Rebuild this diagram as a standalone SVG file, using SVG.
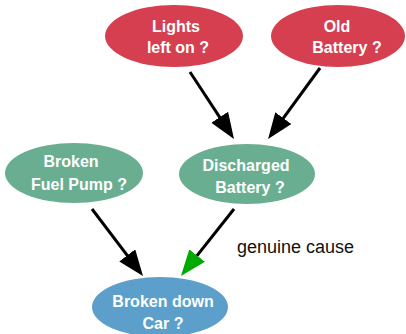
<svg xmlns="http://www.w3.org/2000/svg" width="406" height="334" viewBox="0 0 406 334">
  <style>
    .label { font-family: "Liberation Sans", Arial, sans-serif; font-size: 16px; font-weight: bold; fill: #ffffff; text-anchor: middle; }
    .cause { fill: #d63f50; }
    .mid { fill: #69ae90; }
    .effect { fill: #5c9fca; }
    .edge { stroke: #000000; stroke-width: 3; fill: none; }
    .note { font-family: "Liberation Sans", Arial, sans-serif; font-size: 18px; fill: #111111; }
  </style>
  <defs>
    <marker id="head" markerUnits="userSpaceOnUse" markerWidth="26" markerHeight="20" refX="10" refY="10" orient="auto">
      <path d="M0,0 L26,10 L0,20 z" fill="#000000"/>
    </marker>
    <marker id="headGreen" markerUnits="userSpaceOnUse" markerWidth="26" markerHeight="20" refX="10" refY="10" orient="auto">
      <path d="M0,0 L26,10 L0,20 z" fill="#00aa00"/>
    </marker>
  </defs>

  <rect width="406" height="334" fill="#ffffff"/>

  <g id="connectors">
    <line class="edge" x1="190" y1="72" x2="225.2" y2="125.6" marker-end="url(#head)"/>
    <line class="edge" x1="320" y1="68" x2="277.5" y2="126.2" marker-end="url(#head)"/>
    <line class="edge" x1="92" y1="209" x2="133.3" y2="263.3" marker-end="url(#head)"/>
    <line class="edge" x1="234" y1="209" x2="190.9" y2="263.4" marker-end="url(#headGreen)"/>
  </g>

  <g id="lights">
    <ellipse class="cause" cx="174" cy="36" rx="69" ry="31"/>
    <text class="label"><tspan x="176" y="32">Lights</tspan><tspan x="178" y="53">left on ?</tspan></text>
  </g>

  <g id="old-battery">
    <ellipse class="cause" cx="338" cy="36" rx="67" ry="31"/>
    <text class="label"><tspan x="337" y="32">Old</tspan><tspan x="347" y="53">Battery ?</tspan></text>
  </g>

  <g id="fuel-pump">
    <ellipse class="mid" cx="74" cy="173" rx="69" ry="30"/>
    <text class="label"><tspan x="71" y="167">Broken</tspan><tspan x="79" y="190">Fuel Pump ?</tspan></text>
  </g>

  <g id="discharged">
    <ellipse class="mid" cx="247" cy="174" rx="68" ry="30"/>
    <text class="label"><tspan x="246" y="171">Discharged</tspan><tspan x="250" y="193">Battery ?</tspan></text>
  </g>

  <g id="car">
    <ellipse class="effect" cx="160" cy="307" rx="68" ry="30"/>
    <text class="label"><tspan x="163" y="307">Broken down</tspan><tspan x="163" y="329">Car ?</tspan></text>
  </g>

  <text class="note" x="237" y="253">genuine cause</text>
</svg>
